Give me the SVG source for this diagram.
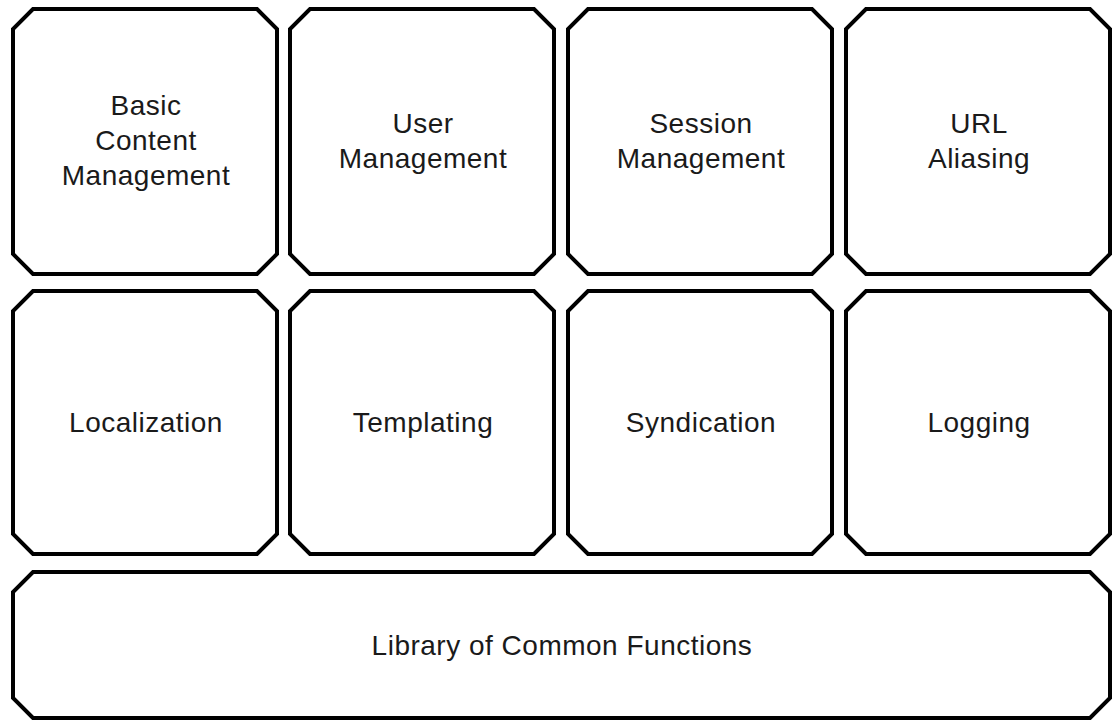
<svg xmlns="http://www.w3.org/2000/svg" width="1114" height="720" viewBox="0 0 1114 720">
<style>
.box{fill:#fff;stroke:#000;stroke-width:4;stroke-linejoin:miter}
.lbl{font-family:"Liberation Sans",Arial,sans-serif;font-size:28px;letter-spacing:0.5px;fill:#1a1a1a;text-anchor:middle}
</style>
<rect width="1114" height="720" fill="#fff"/>
<g id="basic-content-management"><path class="box" d="M33,9 H257 L277,29 V254 L257,274 H33 L13,254 V29 Z"/><text class="lbl" x="146" y="115">Basic</text><text class="lbl" x="146" y="150">Content</text><text class="lbl" x="146" y="185">Management</text></g>
<g id="user-management"><path class="box" d="M310,9 H534 L554,29 V254 L534,274 H310 L290,254 V29 Z"/><text class="lbl" x="423" y="133">User</text><text class="lbl" x="423" y="168">Management</text></g>
<g id="session-management"><path class="box" d="M588,9 H812 L832,29 V254 L812,274 H588 L568,254 V29 Z"/><text class="lbl" x="701" y="133">Session</text><text class="lbl" x="701" y="168">Management</text></g>
<g id="url-aliasing"><path class="box" d="M866,9 H1090 L1110,29 V254 L1090,274 H866 L846,254 V29 Z"/><text class="lbl" x="979" y="133">URL</text><text class="lbl" x="979" y="168">Aliasing</text></g>
<g id="localization"><path class="box" d="M33,291 H257 L277,311 V534 L257,554 H33 L13,534 V311 Z"/><text class="lbl" x="146" y="432">Localization</text></g>
<g id="templating"><path class="box" d="M310,291 H534 L554,311 V534 L534,554 H310 L290,534 V311 Z"/><text class="lbl" x="423" y="432">Templating</text></g>
<g id="syndication"><path class="box" d="M588,291 H812 L832,311 V534 L812,554 H588 L568,534 V311 Z"/><text class="lbl" x="701" y="432">Syndication</text></g>
<g id="logging"><path class="box" d="M866,291 H1090 L1110,311 V534 L1090,554 H866 L846,534 V311 Z"/><text class="lbl" x="979" y="432">Logging</text></g>
<g id="library"><path class="box" d="M33,572 H1090 L1110,592 V698 L1090,718 H33 L13,698 V592 Z"/><text class="lbl" x="562" y="655">Library of Common Functions</text></g>
<g id="connectors"/>
</svg>
